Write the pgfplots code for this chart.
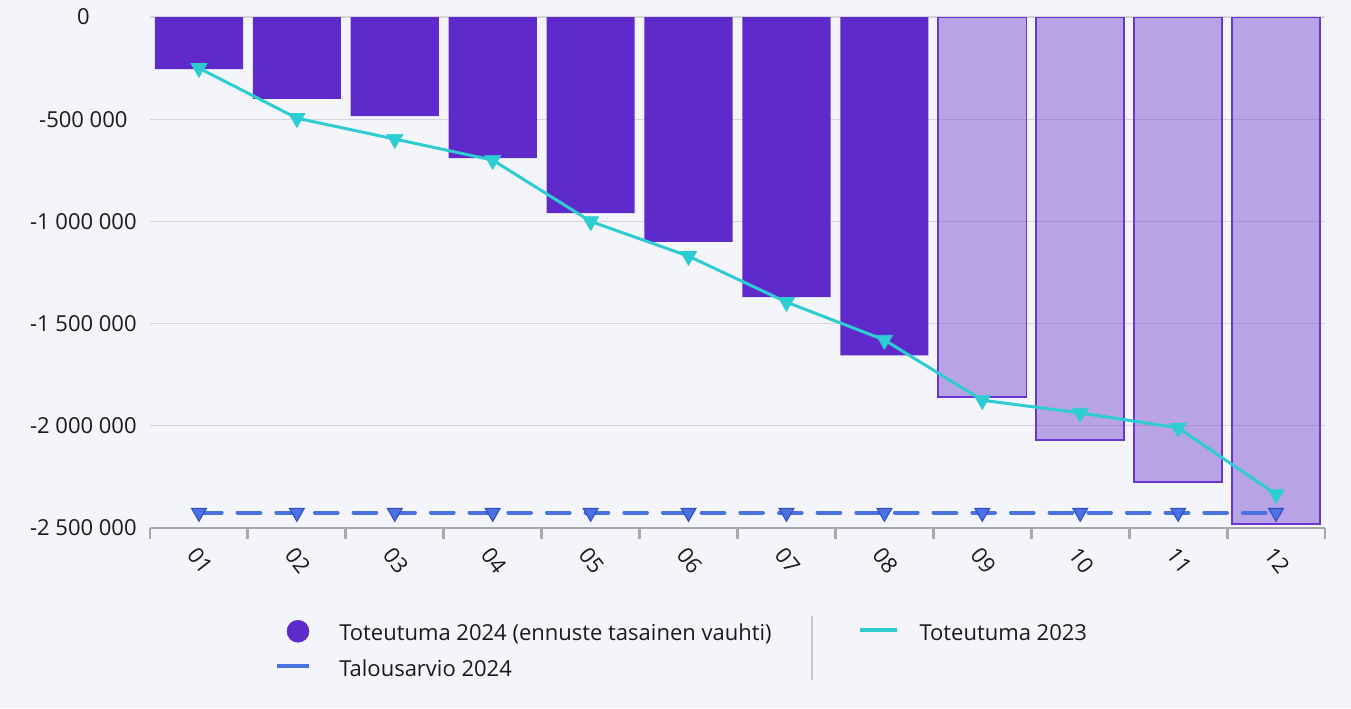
\documentclass[border=0pt]{standalone}
\usepackage{fontspec}
\setmainfont{Open Sans}
\usepackage{pgfplots}
\pgfplotsset{compat=1.18}
\definecolor{bg}{HTML}{F4F5FA}
\definecolor{purp}{HTML}{5F2ACB}
\definecolor{lborder}{HTML}{6A35D3}
\definecolor{teal2}{HTML}{2ECCD3}
\definecolor{blue2}{HTML}{4A72E0}
\definecolor{blueedge}{HTML}{2E4CC0}
\definecolor{gridgray}{HTML}{D4D5DA}
\definecolor{axisgray}{HTML}{A8A8A8}
\definecolor{sepgray}{HTML}{C8C8C8}
\definecolor{txt}{HTML}{1A1A1A}
\begin{document}
\begin{tikzpicture}
\fill[bg] (0pt,0pt) rectangle (1013.25pt,531pt);
\begin{axis}[
  at={(112.5pt,135pt)}, anchor=south west,
  scale only axis, width=881.25pt, height=383.25pt,
  xmin=-0.5, xmax=11.5, ymin=-2500000, ymax=0,
  axis x line=bottom, axis y line=left,
  axis line style={-},
  y axis line style={draw=none},
  x axis line style={draw=axisgray, line width=1.5pt},
  ymajorgrids, grid style={gridgray, line width=1pt},
  ytick={-2500000,-2000000,-1500000,-1000000,-500000,0},
  yticklabels={-2 500 000,-2 000 000,-1 500 000,-1 000 000,-500 000,0},
  scaled y ticks=false,
  xtick={0,...,11},
  xticklabels={01,02,03,04,05,06,07,08,09,10,11,12},
  minor xtick={-0.5,0.5,...,11.5},
  tick align=outside,
  major tick length=0pt,
  minor tick length=8.5pt,
  minor tick style={axisgray, line width=2.2pt},
  ticklabel style={font=\fontsize{16.5}{19}\selectfont, text=txt},
  yticklabel style={anchor=center, xshift=-50pt},
  xticklabel style={rotate=-52, anchor=north west, xshift=7pt, yshift=-5pt},
  legend columns=2,
  legend style={draw=none, fill=none, inner sep=0pt, outer sep=0pt,
    column sep=0pt, row sep=0pt,
    at={(0.10638,-0.18004)}, anchor=north west,
    font=\fontsize{16.5}{19}\selectfont,
    nodes={inner sep=0pt, outer sep=0pt, text height=15pt, text depth=12pt, anchor=base west, text=txt}},
  legend cell align=left,
]
\addplot[ybar, bar width=0.9, bar shift=0pt, fill=purp, draw=none, forget plot]
  coordinates {(0,-255000) (1,-400000) (2,-485000) (3,-690000) (4,-960000) (5,-1100000) (6,-1370000) (7,-1655000)};
\addplot[ybar, bar width=0.9, bar shift=0pt, fill=purp, fill opacity=0.4, draw=lborder, line width=1.2pt, forget plot]
  coordinates {(8,-1860000) (9,-2070000) (10,-2275000) (11,-2480000)};
\addplot[teal2, line width=2.25pt, mark=triangle*, mark size=7pt,
  mark options={rotate=180, fill=teal2, draw=teal2, line width=0.5pt}, forget plot]
  coordinates {(0,-250000) (1,-495000) (2,-597000) (3,-700000) (4,-1000000) (5,-1170000) (6,-1395000) (7,-1580000) (8,-1875000) (9,-1937000) (10,-2010000) (11,-2335000)};
\addplot[blue2, line width=3pt, dash pattern=on 17pt off 12pt, line cap=round, mark=triangle*, mark size=6.5pt,
  mark options={solid, rotate=180, fill=blue2, draw=blueedge, line width=0.75pt}, forget plot]
  coordinates {(0,-2425000) (1,-2425000) (2,-2425000) (3,-2425000) (4,-2425000) (5,-2425000) (6,-2425000) (7,-2425000) (8,-2425000) (9,-2425000) (10,-2425000) (11,-2425000)};
\addlegendimage{legend image code/.code={\path (0pt,0pt) (46.5pt,0pt); \fill[purp] (15.75pt,6.75pt) circle (8.25pt);}}
\addlegendentry{\makebox[389.25pt][l]{Toteutuma 2024 (ennuste tasainen vauhti)}}
\addlegendimage{legend image code/.code={\path (0pt,0pt) (44.25pt,0pt); \draw[teal2, line width=3pt] (0pt,7.5pt) -- (27.75pt,7.5pt);}}
\addlegendentry{Toteutuma 2023}
\addlegendimage{legend image code/.code={\path (0pt,0pt) (46.5pt,0pt); \draw[blue2, line width=3pt] (0pt,7.5pt) -- (24pt,7.5pt);}}
\addlegendentry{Talousarvio 2024}
\end{axis}
\draw[sepgray, line width=1.5pt] (609pt,69pt) -- (609pt,21pt);
\end{tikzpicture}
\end{document}
